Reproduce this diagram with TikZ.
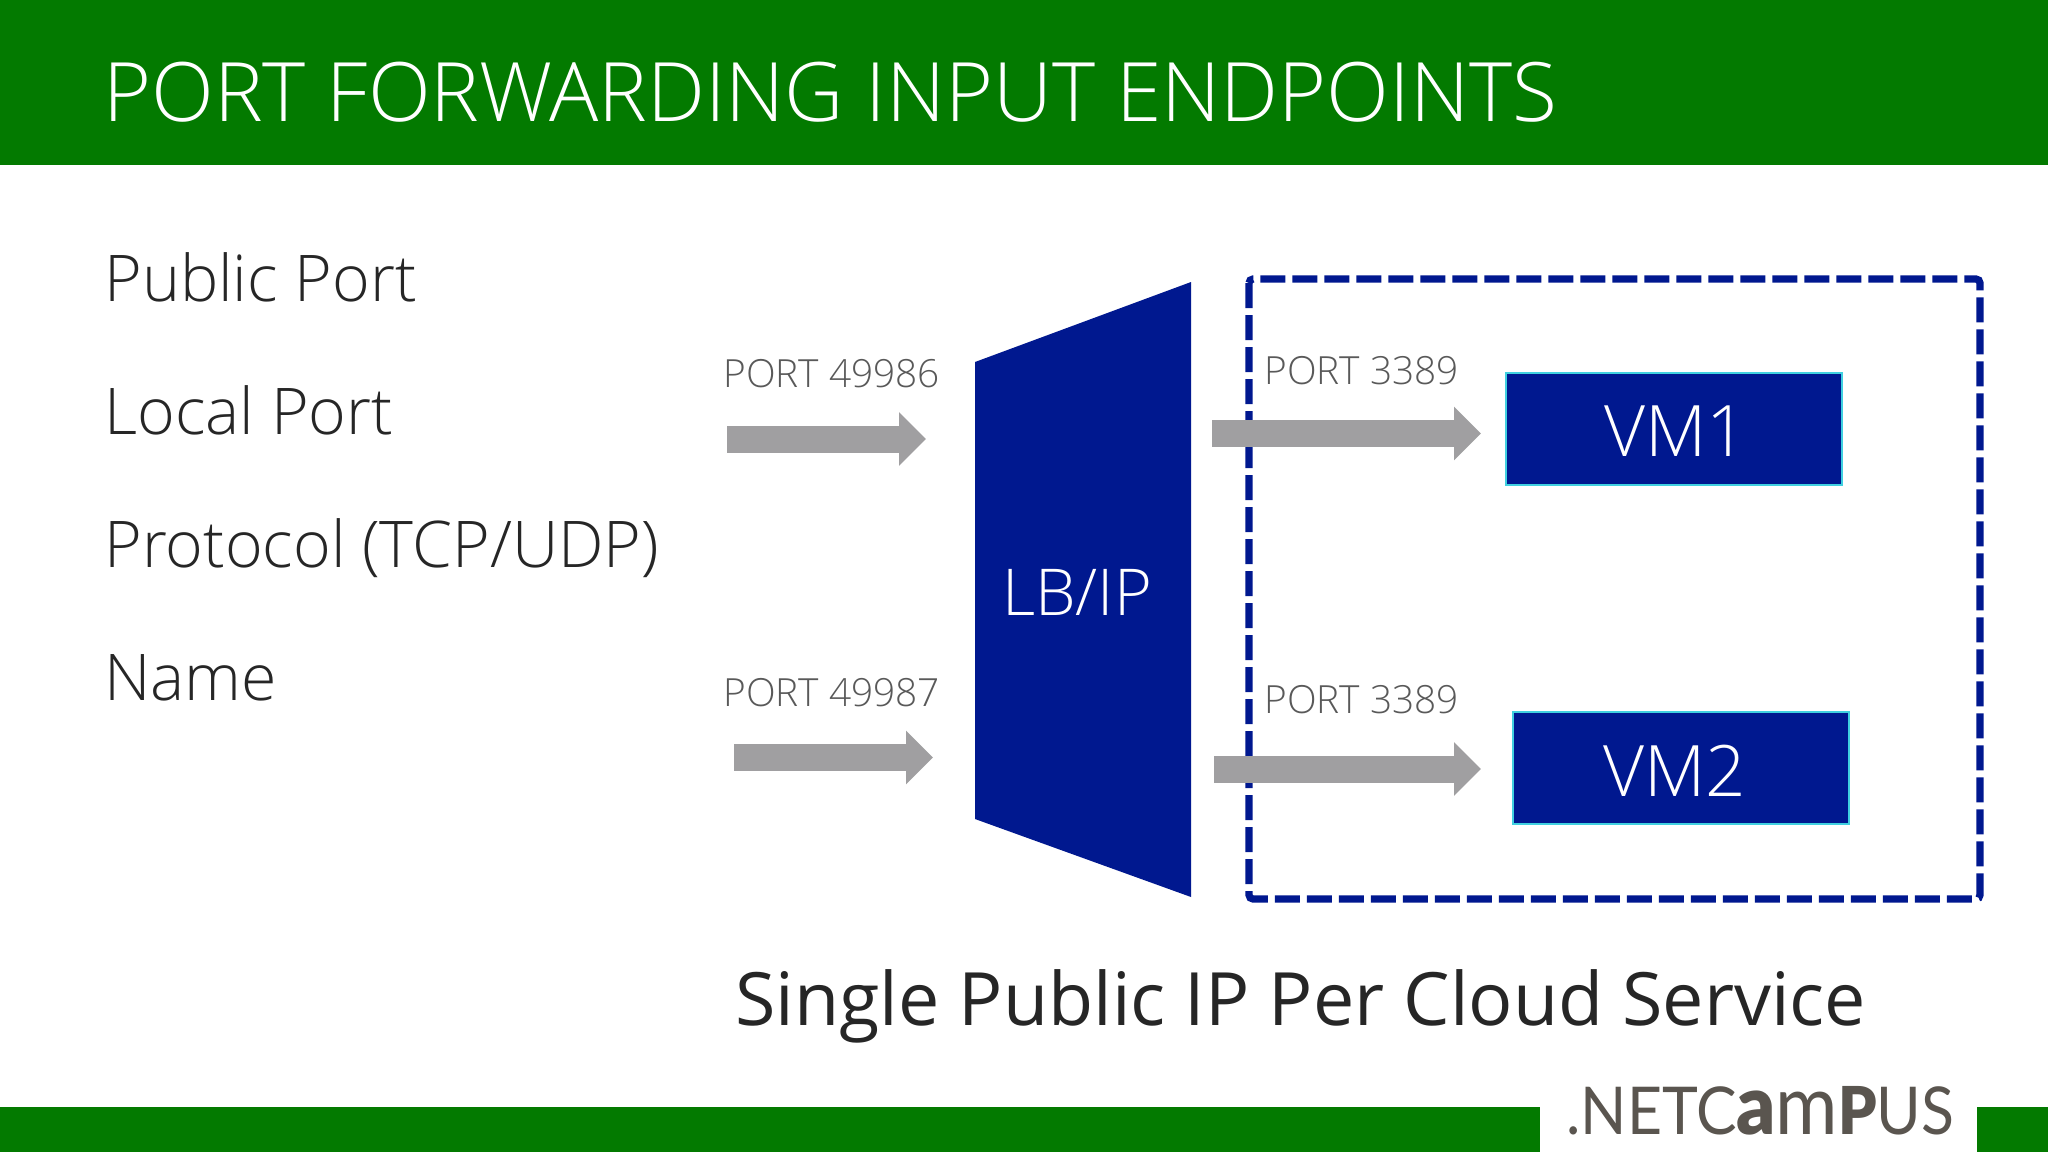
\documentclass[tikz,border=0pt]{standalone}
\usepackage{fontspec}
\setmainfont{Open Sans Light}
\newfontfamily\labelfont{Open Sans}
\newfontfamily\logofont{Lato}
\newfontfamily\logoheavy{Lato Black}
\usetikzlibrary{arrows.meta}
\definecolor{barGreen}{HTML}{037A00}
\definecolor{lbBlue}{HTML}{00188F}
\definecolor{vmEdge}{HTML}{40D0E0}
\definecolor{portGray}{HTML}{A09FA1}
\definecolor{portText}{HTML}{595959}
\definecolor{logoBrown}{HTML}{5A554F}
\begin{document}
\begin{tikzpicture}[
		    x=0.5pt,y=-0.5pt,
		    bar/.style={fill=barGreen,draw=none},
		    heading/.style={anchor=base west,inner sep=0pt,text=white,font=\fontsize{41}{41}\selectfont},
		    item/.style={anchor=base west,inner sep=0pt,text=black!85,font=\fontsize{32.2}{32.2}\selectfont},
		    portlabel/.style={anchor=base west,inner sep=0pt,text=portText,font=\fontsize{19.4}{19.4}\selectfont},
		    vmbox/.style={fill=lbBlue,draw=vmEdge,line width=1pt,minimum width=168pt,minimum height=56pt,inner sep=0pt,text=white,text height=28pt,text depth=0pt,font=\fontsize{35.5}{35.5}\selectfont},
		    portarrow/.style={draw=portGray,line width=13.5pt,-{Triangle[length=13.5pt,width=26pt]}}]
			\useasboundingbox (0,0) rectangle (2048,1152);
			\fill[white] (0,0) rectangle (2048,1152);
			\fill[bar] (0,0) rectangle (2048,165);
			\fill[bar] (0,1107) rectangle (1540,1152);
			\fill[bar] (1977,1107) rectangle (2048,1152);
			\node[heading] (title) at (103,121) {PORT FORWARDING INPUT ENDPOINTS};
			\node[item] (public) at (104,301) {Public Port};
			\node[item] (local) at (104,434) {Local Port};
			\node[item] (protocol) at (104,567) {Protocol (TCP/UDP)};
			\node[item] (name) at (104,700) {Name};
			% load balancer
			\fill[lbBlue] (975,362) -- (1191,282) -- (1191,897) -- (975,819) -- cycle;
			\node[text=white,font=\fontsize{32.3}{32.3}\selectfont] (lb) at (1077,592) {LB/IP};
			% cloud service
			\draw[lbBlue,line width=3.6pt,dash pattern=on 12.5pt off 3.5pt,rounded corners=2pt] (1249,279) rectangle (1980,899);
			\node[vmbox] (vm1) at (1673.5,428.5) {\hspace{2.6pt}VM1};
			\node[vmbox] (vm2) at (1680.5,768) {VM2\kern6pt};
			\node[portlabel] (in1) at (723,387) {PORT 49986};
			\node[portlabel] (in2) at (723,706) {PORT 49987};
			\node[portlabel] (out1) at (1264,384) {PORT 3389};
			\node[portlabel] (out2) at (1264,713) {PORT 3389};
			\coordinate (a1) at (727,439);
			\coordinate (a2) at (926,439);
			\coordinate (b1) at (734,757.5);
			\coordinate (b2) at (933,757.5);
			\coordinate (c1) at (1212,433.5);
			\coordinate (c2) at (1481,433.5);
			\coordinate (d1) at (1214,769);
			\coordinate (d2) at (1481,769);
			\draw[portarrow] (a1) -- (a2);
			\draw[portarrow] (b1) -- (b2);
			\draw[portarrow] (c1) -- (c2);
			\draw[portarrow] (d1) -- (d2);
			\node[anchor=base west,inner sep=0pt,text=black!85,font=\labelfont\fontsize{36.8}{36.8}\selectfont] (single) at (735,1025) {Single Public IP Per Cloud Service};
			% logo
			\node[anchor=base west,inner sep=0pt,text=logoBrown,font=\logofont\fontsize{33}{33}\selectfont] (logo) at (1566,1134) {\scalebox{.92}[1]{.NETC\scalebox{1.25}{\logoheavy a}\scalebox{1.25}{m}{\logoheavy P}US}};
		\end{tikzpicture}
\end{document}
